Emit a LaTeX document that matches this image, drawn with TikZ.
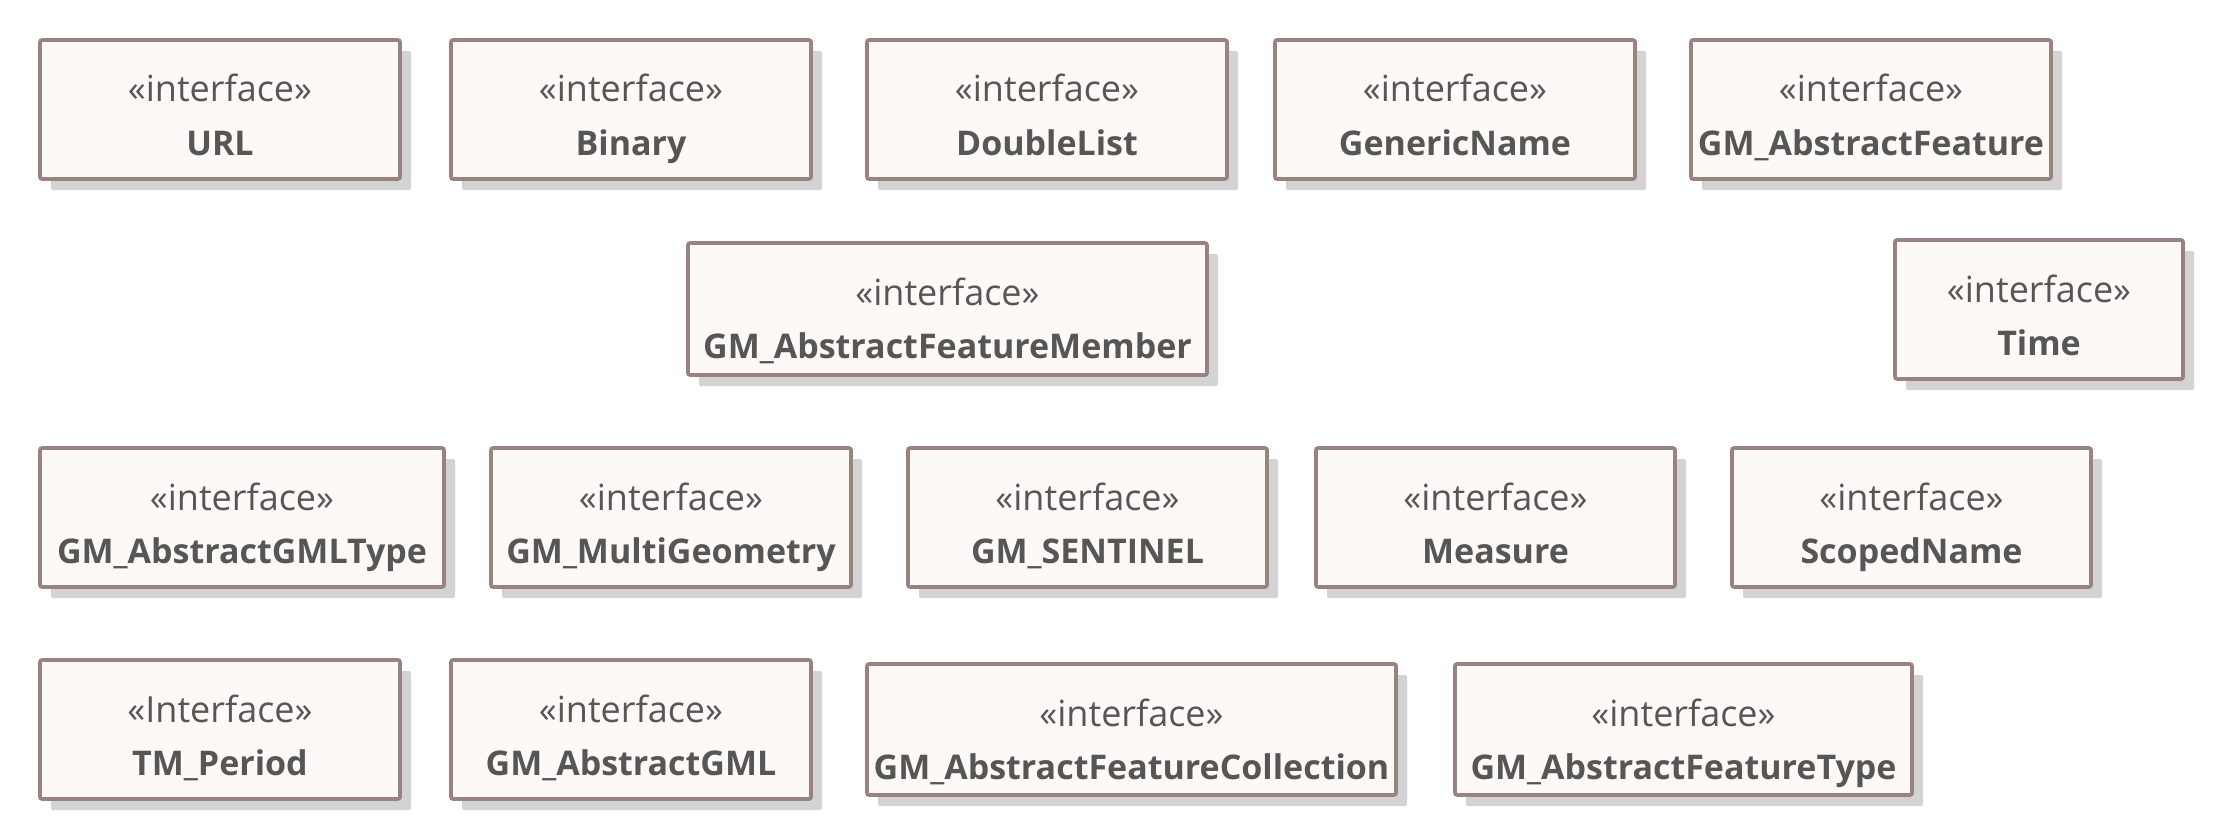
\documentclass[tikz,border=0pt]{standalone}
\usepackage{fontspec}
\setmainfont{Open Sans}
\usetikzlibrary{shadows}
\definecolor{boxborder}{HTML}{9A8281}
\definecolor{boxfill}{HTML}{FDF9F7}
\definecolor{shadowc}{HTML}{D3D3D3}
\definecolor{textc}{HTML}{565656}
\tikzset{
  ifacebox/.style={draw=boxborder, fill=boxfill, line width=3.6pt, rounded corners=2pt,
    inner sep=0pt, outer sep=0pt,
    drop shadow={shadow xshift=11pt, shadow yshift=-11pt, fill=shadowc, opacity=1, draw=none}},
  stereotxt/.style={text=textc, inner sep=0pt, font=\fontsize{36}{42}\selectfont},
  titletxt/.style={text=textc, inner sep=0pt, font=\fontsize{34}{42}\selectfont\bfseries},
}
\newcommand\umlbox[7]{%
  \node[ifacebox, anchor=north west,
        minimum width={(#4-#2)*1pt}, minimum height={(#5-#3)*1pt}] (#1) at (#2,#3) {};
  \node[stereotxt, anchor=base] (#1-s) at ([yshift=-62pt]#1.north) {#6};
  \node[titletxt, anchor=base] (#1-t) at ([yshift=-115pt]#1.north) {#7};
}
\begin{document}
\begin{tikzpicture}[x=1pt,y=-1pt]
\useasboundingbox[fill=white] (0,0) rectangle (2224,840);
% row 1
\umlbox{url}{40}{40}{400}{179}{«interface»}{URL}
\umlbox{binary}{451}{40}{811}{179}{«interface»}{Binary}
\umlbox{doublelist}{867}{40}{1227}{179}{«interface»}{DoubleList}
\umlbox{genericname}{1275}{40}{1635}{179}{«interface»}{GenericName}
\umlbox{absfeature}{1691}{40}{2051}{179}{«interface»}{GM\_AbstractFeature}
% row 2
\umlbox{member}{688}{243}{1207}{375}{«interface»}{GM\_AbstractFeatureMember}
\umlbox{time}{1895}{240}{2183}{379}{«interface»}{Time}
% row 3
\umlbox{gmltype}{40}{448}{444}{587}{«interface»}{GM\_AbstractGMLType}
\umlbox{multigeom}{491}{448}{851}{587}{«interface»}{GM\_MultiGeometry}
\umlbox{sentinel}{908}{448}{1267}{587}{«interface»}{GM\_SENTINEL}
\umlbox{measure}{1316}{448}{1675}{587}{«interface»}{Measure}
\umlbox{scoped}{1732}{448}{2091}{587}{«interface»}{ScopedName}
% row 4
\umlbox{period}{40}{660}{400}{799}{«Interface»}{TM\_Period}
\umlbox{gml}{451}{660}{811}{799}{«interface»}{GM\_AbstractGML}
\umlbox{collection}{867}{664}{1396}{795}{«interface»}{GM\_AbstractFeatureCollection}
\umlbox{ftype}{1455}{664}{1912}{795}{«interface»}{GM\_AbstractFeatureType}
\end{tikzpicture}
\end{document}
